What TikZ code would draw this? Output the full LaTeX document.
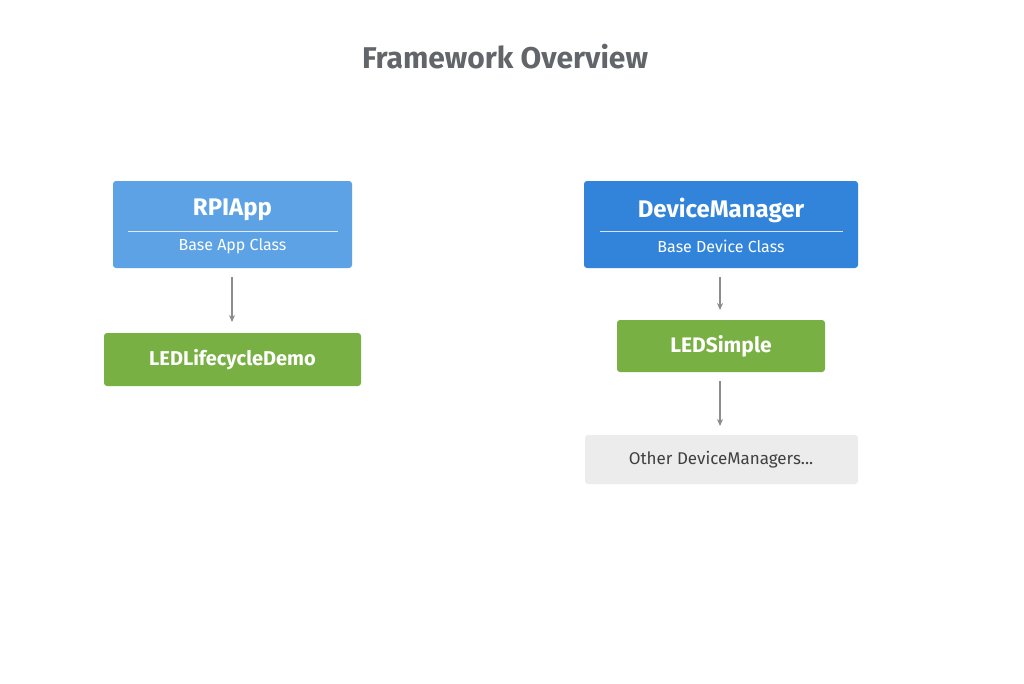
\documentclass[tikz,border=0pt]{standalone}
\usepackage{fontspec}
\setmainfont{Fira Sans}
\usetikzlibrary{arrows.meta}
\definecolor{lblue}{HTML}{5CA2E4}
\definecolor{dblue}{HTML}{3284DA}
\definecolor{lgreen}{HTML}{79B043}
\definecolor{lgray}{HTML}{ECECEC}
\definecolor{tgray}{HTML}{62666A}
\definecolor{agray}{HTML}{8C8C8C}
\begin{document}
\begin{tikzpicture}[x=1pt,y=-1pt,
  box/.style={rounded corners=3pt,draw=none},
  arr/.style={agray,line width=1.2pt,-{Stealth[length=7pt,width=6pt]}}]
\useasboundingbox[fill=white] (0,0) rectangle (1024,683);
\node[font=\bfseries\fontsize{30}{36}\selectfont,text=tgray] (title) at (505,57) {Framework Overview};
% RPIApp
\fill[lblue,box] (113,181) rectangle (352,268);
\node[font=\bfseries\fontsize{24}{28}\selectfont,text=white] (rpi) at (232.5,210) {RPIApp};
\draw[white,opacity=0.8,line width=0.7pt] (128,231) -- (338,231);
\node[font=\fontsize{16}{19}\selectfont,text=white] (rpis) at (232.5,246) {Base App Class};
\coordinate (rpib) at (232,277);
% DeviceManager
\fill[dblue,box] (584,181) rectangle (858,268);
\node[font=\bfseries\fontsize{24}{28}\selectfont,text=white] (dm) at (721,210) {DeviceManager};
\draw[white,opacity=0.8,line width=0.7pt] (600,231) -- (843,231);
\node[font=\fontsize{16}{19}\selectfont,text=white] (dms) at (721,246) {Base Device Class};
\coordinate (dmb) at (720,277);
% LEDLifecycleDemo
\fill[lgreen,box] (104,333) rectangle (361,386);
\node[font=\bfseries\fontsize{20}{24}\selectfont,text=white] (led) at (232.5,359.5) {LEDLifecycleDemo};
\coordinate (ledt) at (232,322);
% LEDSimple
\fill[lgreen,box] (617,320) rectangle (825,372);
\node[font=\bfseries\fontsize{21}{25}\selectfont,text=white] (ls) at (721,346) {LEDSimple};
\coordinate (lst) at (720,310);
\coordinate (lsb) at (720,381);
% Other
\fill[lgray,box] (585,435) rectangle (858,484);
\node[font=\fontsize{17}{20}\selectfont,text=black!75] (oth) at (721,460) {Other DeviceManagers...};
\coordinate (otht) at (720,426);
\draw[arr] (rpib) -- (ledt);
\draw[arr] (dmb) -- (lst);
\draw[arr] (lsb) -- (otht);
\end{tikzpicture}
\end{document}
